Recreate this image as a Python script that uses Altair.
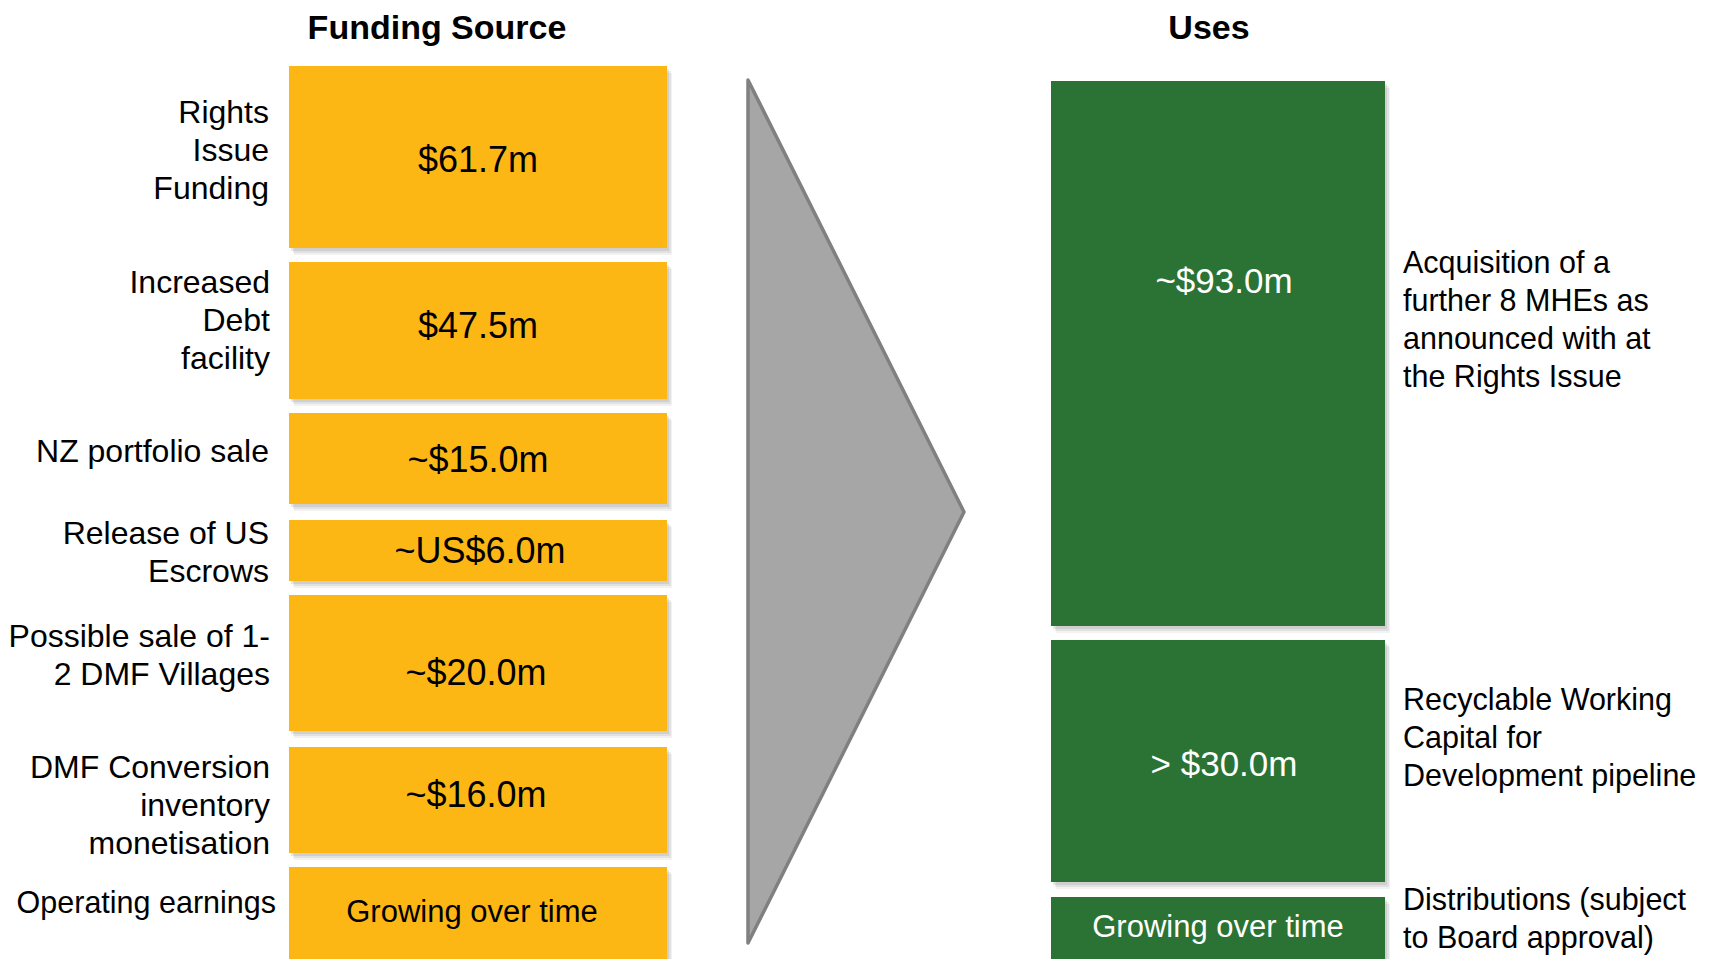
import altair as alt
import pandas as pd

# ---------------- data ----------------
source_labels = [
    ["Rights", "Issue", "Funding"],
    ["Increased", "Debt", "facility"],
    ["NZ portfolio sale"],
    ["Release of US", "Escrows"],
    ["Possible sale of 1-", "2 DMF Villages"],
    ["DMF Conversion", "inventory", "monetisation"],
    ["Operating earnings"],
]
source_values = ["$61.7m", "$47.5m", "~$15.0m", "~US$6.0m", "~$20.0m", "~$16.0m", "Growing over time"]

use_values = ["~$93.0m", "> $30.0m", "Growing over time"]
use_labels = [
    ["Acquisition of a", "further 8 MHEs as", "announced with at", "the Rights Issue"],
    ["Recyclable Working", "Capital for", "Development pipeline"],
    ["Distributions (subject", "to Board approval)"],
]

titles = ["Funding Source", "Uses"]

# ---------------- layout (slide units) ----------------
W, H = 1703, 951
X0, Y0 = 8, 8
src_x = (289, 667)
src_top = [66, 262, 413, 520, 595, 747, 867]
src_bot = [248, 399, 504, 581, 731, 853, 962]
src_val_base = [172, 338, 472, 563, 685, 807, 922]
src_val_cx = [478, 478, 478, 480, 476, 476, 472]
src_lab_base = [123, 293, 462, 544, 647, 778, 913]
src_lab_right = [269, 270, 269, 269, 270, 270, 276]

use_x = (1051, 1385)
use_top = [81, 640, 897]
use_bot = [626, 882, 962]
use_val_base = [293, 776, 937]
use_val_cx = [1224, 1224, 1218]
use_lab_base = [273, 710, 910]
use_lab_left = 1403
LH = 38

tri = pd.DataFrame({"x": [748, 964], "y": [80, 512], "y2": [943, 512]})
title_df = pd.DataFrame({"t": titles, "x": [437, 1209], "y": [39, 39]})

FONT = "Liberation Sans"
YEL = "#FDB714"
GRN = "#2A7334"

src_boxes = pd.DataFrame({"x": src_x[0], "x2": src_x[1], "y": src_top, "y2": src_bot})
use_boxes = pd.DataFrame({"x": use_x[0], "x2": use_x[1], "y": use_top, "y2": use_bot})
all_boxes = pd.concat([src_boxes, use_boxes], ignore_index=True)

src_vals = pd.DataFrame({"t": source_values, "x": src_val_cx, "y": src_val_base})
use_vals = pd.DataFrame({"t": use_values, "x": use_val_cx, "y": use_val_base})

rows = []
for lines, b, r in zip(source_labels, src_lab_base, src_lab_right):
    for i, s in enumerate(lines):
        rows.append({"t": s, "x": r, "y": b + i * LH})
src_labs = pd.DataFrame(rows)
rows = []
for lines, b in zip(use_labels, use_lab_base):
    for i, s in enumerate(lines):
        rows.append({"t": s, "x": use_lab_left, "y": b + i * LH})
use_labs = pd.DataFrame(rows)

xs = alt.Scale(domain=[X0, X0 + W], nice=False, zero=False)
ys = alt.Scale(domain=[Y0, Y0 + H], nice=False, zero=False, reverse=True)


def X(f="x"):
    return alt.X(f"{f}:Q", scale=xs, axis=None)


def Y(f="y"):
    return alt.Y(f"{f}:Q", scale=ys, axis=None)


layers = []
# soft shadows
for dx, dy, op in [(5, 7, 0.10), (4, 5, 0.14), (2, 3, 0.18)]:
    sh = all_boxes.assign(x=all_boxes.x + dx, x2=all_boxes.x2 + dx, y=all_boxes.y + dy, y2=all_boxes.y2 + dy)
    layers.append(
        alt.Chart(sh).mark_rect(color="#7F7F7F", opacity=op, clip=True).encode(
            x=X(), x2="x2:Q", y=Y(), y2="y2:Q"
        )
    )

layers.append(
    alt.Chart(src_boxes).mark_rect(color=YEL, clip=True).encode(x=X(), x2="x2:Q", y=Y(), y2="y2:Q")
)
layers.append(
    alt.Chart(use_boxes).mark_rect(color=GRN, clip=True).encode(x=X(), x2="x2:Q", y=Y(), y2="y2:Q")
)
layers.append(
    alt.Chart(tri).mark_area(
        orient="vertical", fill="#A6A6A6", stroke="#808080", strokeWidth=3.5, strokeJoin="round"
    ).encode(x=X(), y=Y(), y2="y2:Q")
)

layers.append(
    alt.Chart(title_df).mark_text(font=FONT, fontSize=34, fontWeight="bold", color="#000000",
                                  align="center", baseline="alphabetic").encode(x=X(), y=Y(), text="t:N")
)
layers.append(
    alt.Chart(src_vals.iloc[:6]).mark_text(font=FONT, fontSize=36, color="#000000",
                                           align="center", baseline="alphabetic").encode(x=X(), y=Y(), text="t:N")
)
layers.append(
    alt.Chart(src_vals.iloc[6:]).mark_text(font=FONT, fontSize=31, color="#000000",
                                           align="center", baseline="alphabetic").encode(x=X(), y=Y(), text="t:N")
)
layers.append(
    alt.Chart(use_vals.iloc[:2]).mark_text(font=FONT, fontSize=35, color="#FFFFFF",
                                           align="center", baseline="alphabetic").encode(x=X(), y=Y(), text="t:N")
)
layers.append(
    alt.Chart(use_vals.iloc[2:]).mark_text(font=FONT, fontSize=31, color="#FFFFFF",
                                           align="center", baseline="alphabetic").encode(x=X(), y=Y(), text="t:N")
)
layers.append(
    alt.Chart(src_labs.iloc[:-1]).mark_text(font=FONT, fontSize=32, color="#000000",
                                            align="right", baseline="alphabetic").encode(x=X(), y=Y(), text="t:N")
)
layers.append(
    alt.Chart(src_labs.iloc[-1:]).mark_text(font=FONT, fontSize=30.5, color="#000000",
                                            align="right", baseline="alphabetic").encode(x=X(), y=Y(), text="t:N")
)
layers.append(
    alt.Chart(use_labs).mark_text(font=FONT, fontSize=30.5, color="#000000",
                                  align="left", baseline="alphabetic").encode(x=X(), y=Y(), text="t:N")
)

chart = (
    alt.layer(*layers)
    .properties(width=W, height=H, padding=0, autosize=alt.AutoSizeParams(type="none"), background="#FFFFFF")
    .configure_view(stroke=None)
)

chart.save("out.html", embed_options={"renderer": "svg", "actions": False})
